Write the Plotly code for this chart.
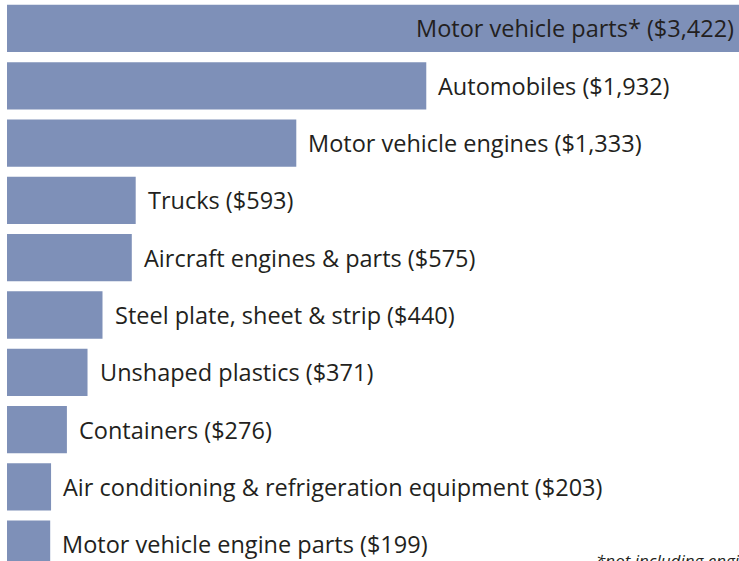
import plotly.graph_objects as go

categories = [
    "Motor vehicle parts*",
    "Automobiles",
    "Motor vehicle engines",
    "Trucks",
    "Aircraft engines & parts",
    "Steel plate, sheet & strip",
    "Unshaped plastics",
    "Containers",
    "Air conditioning & refrigeration equipment",
    "Motor vehicle engine parts",
]
values = [3422, 1932, 1333, 593, 575, 440, 371, 276, 203, 199]
value_labels = ["$3,422", "$1,932", "$1,333", "$593", "$575", "$440", "$371", "$276", "$203", "$199"]
footnote = "*not including engines"

BAR_COLOR = "#7e90b8"
TEXT_COLOR = "#231f20"
FONT = "Open Sans"
FS = 23.5

fig = go.Figure(go.Bar(
    x=values,
    y=list(range(len(categories))),
    orientation="h",
    marker=dict(color=BAR_COLOR, line=dict(width=0)),
    hoverinfo="skip",
))

for i, (c, v, l) in enumerate(zip(categories, values, value_labels)):
    text = f"{c} ({l})"
    if i == 0:
        fig.add_annotation(x=1, xref="paper", y=i, yref="y", text=text, showarrow=False,
                           xanchor="right", xshift=-3, font=dict(family=FONT, size=FS, color=TEXT_COLOR))
    else:
        fig.add_annotation(x=v, xref="x", y=i, yref="y", text=text, showarrow=False,
                           xanchor="left", xshift=10, font=dict(family=FONT, size=FS, color=TEXT_COLOR))

fig.add_annotation(x=1, xref="paper", y=0, yref="paper", text=footnote, showarrow=False,
                   xanchor="left", xshift=-145, yanchor="top", yshift=14,
                   font=dict(family=FONT, size=17, color=TEXT_COLOR, style="italic"))

fig.update_layout(
    width=739, height=561,
    margin=dict(l=0, r=0, t=0, b=0),
    paper_bgcolor="white", plot_bgcolor="white",
    bargap=0.175,
    showlegend=False,
    xaxis=dict(range=[-32.3, 3373], visible=False, fixedrange=True),
    yaxis=dict(range=[9.293, -0.497], visible=False, fixedrange=True),
)
fig.write_html("out.html", config={"displayModeBar": False},
               post_script="document.body.style.margin='0';document.body.style.overflow='hidden';")
